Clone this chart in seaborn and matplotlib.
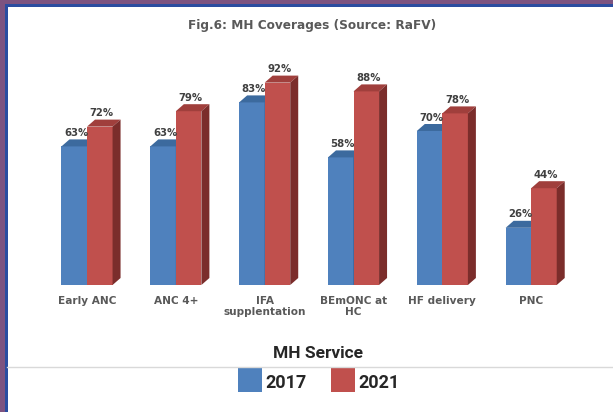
import numpy as np
import pandas as pd
import matplotlib
matplotlib.use("Agg")
import matplotlib.pyplot as plt
from matplotlib.patches import Polygon, Rectangle
import seaborn as sns

categories = ["Early ANC", "ANC 4+", "IFA\nsupplentation", "BEmONC at\nHC", "HF delivery", "PNC"]
years = ["2017", "2021"]
v2017 = [63, 63, 83, 58, 70, 26]
v2021 = [72, 79, 92, 88, 78, 44]

front = {"2017": "#4F81BD", "2021": "#C0504D"}
top_c = {"2017": "#3C6A9E", "2021": "#A03F3C"}
side_c = {"2017": "#30578A", "2021": "#7B2D2B"}

df = pd.DataFrame({
    "service": categories * 2,
    "year": ["2017"] * len(categories) + ["2021"] * len(categories),
    "value": v2017 + v2021,
})

W, H = 613, 412
fig = plt.figure(figsize=(W / 100, H / 100), dpi=100)
fig.patch.set_facecolor("white")

# axes placement (pixel based)
ax_left, ax_right = 42.6, 575.6
ax_base, ax_top = 285, 285 - 220
ax = fig.add_axes([ax_left / W, (H - ax_base) / H, (ax_right - ax_left) / W, (ax_base - ax_top) / H])
ax.set_facecolor("none")

sns.barplot(data=df, x="service", y="value", hue="year", hue_order=years,
            palette=front, width=0.575, saturation=1, legend=False, ax=ax)
ax.set_xlim(-0.5, len(categories) - 0.5)
ax.set_ylim(0, 100)

# 3D depth in pixels -> data units
dpx, dpy = 8, 7
xr = len(categories) / (ax_right - ax_left)
yr = 100 / (ax_base - ax_top)
dx, dy = dpx * xr, dpy * yr

patches = list(ax.patches)
n = len(categories)
for i, p in enumerate(patches):
    yr_key = years[0] if i < n else years[1]
    z = 2 if yr_key == "2017" else 3
    p.set_zorder(z)
    p.set_edgecolor("none")
    x, w, h = p.get_x(), p.get_width(), p.get_height()
    topp = Polygon([(x, h), (x + dx, h + dy), (x + w + dx, h + dy), (x + w, h)],
                   closed=True, facecolor=top_c[yr_key], edgecolor="none", zorder=z)
    sidep = Polygon([(x + w, 0), (x + w + dx, dy), (x + w + dx, h + dy), (x + w, h)],
                    closed=True, facecolor=side_c[yr_key], edgecolor="none", zorder=z)
    ax.add_patch(topp)
    ax.add_patch(sidep)
    ax.text(x + w / 2 + dx / 4, h + dy + 0.6, f"{int(round(h))}%", ha="center", va="bottom",
            fontsize=7.3, fontweight="bold", color="#404040", zorder=5)

for s in ax.spines.values():
    s.set_visible(False)
ax.set_yticks([])
ax.set_ylabel("")
ax.set_xlabel("")
ax.tick_params(axis="x", length=0, pad=8)
for lab in ax.get_xticklabels():
    lab.set_fontsize(7.6)
    lab.set_fontweight("bold")
    lab.set_color("#595959")
    lab.set_linespacing(1.05)

# title
fig.text(312 / W, 1 - 25 / H, "Fig.6: MH Coverages (Source: RaFV)", ha="center", va="center",
         fontsize=8.7, fontweight="bold", color="#595959", family="DejaVu Sans")
# axis title
fig.text(318 / W, 1 - 353 / H, "MH Service", ha="center", va="center",
         fontsize=12.5, fontweight="bold", color="#262626", family="Roboto")

# separator line
fig.add_artist(plt.Line2D([7 / W, 1], [1 - 367 / H, 1 - 367 / H], color="#D9D9D9", lw=1))

# legend
def px_rect(x0, y0, x1, y1, color):
    fig.add_artist(Rectangle((x0 / W, 1 - y1 / H), (x1 - x0) / W, (y1 - y0) / H,
                             facecolor=color, edgecolor="none", transform=fig.transFigure))

px_rect(238, 368, 262, 392, front["2017"])
fig.text(265 / W, 1 - 383 / H, "2017", ha="left", va="center", fontsize=13,
         fontweight="bold", color="#262626", family="Roboto")
px_rect(331, 368, 355, 392, front["2021"])
fig.text(358 / W, 1 - 383 / H, "2021", ha="left", va="center", fontsize=13,
         fontweight="bold", color="#262626", family="Roboto")

# frame border
px_rect(0, 0, 5, H, "#7D5380")
px_rect(0, 0, W, 4, "#7D5380")
px_rect(5, 4, 7.5, H, "#2B4DA0")
px_rect(5, 4, W, 7, "#2B4DA0")

fig.savefig("out.png", dpi=100)
